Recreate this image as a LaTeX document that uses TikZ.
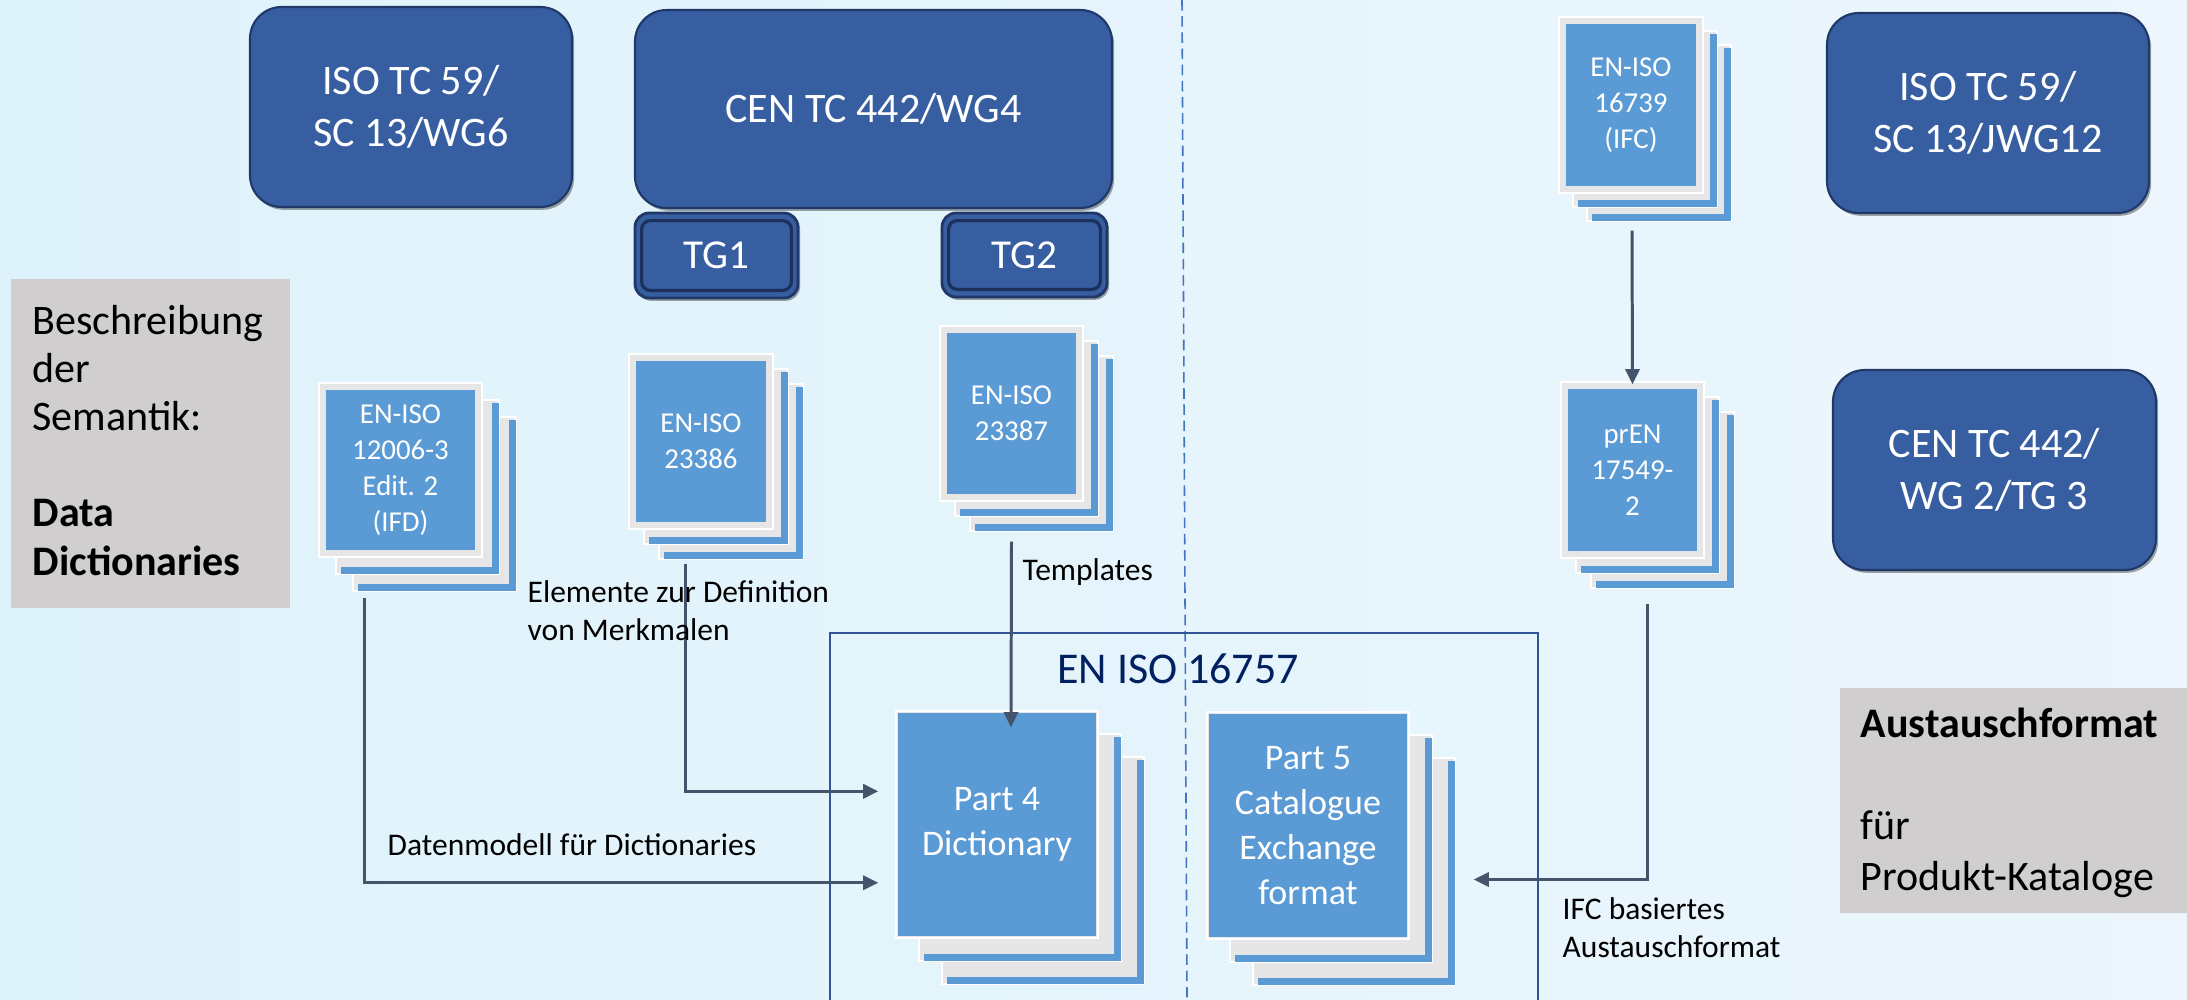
\documentclass[tikz,border=0pt]{standalone}
\usepackage{fontspec}
\setmainfont{Carlito}
\usetikzlibrary{arrows.meta,fit,calc,shadows}
\definecolor{bgL}{RGB}{222,242,251}
\definecolor{bgR}{RGB}{236,246,252}
\definecolor{boxblue}{RGB}{54,94,161}
\definecolor{boxedge}{RGB}{32,56,104}
\definecolor{tgline}{RGB}{28,48,92}
\definecolor{docblue}{RGB}{91,155,213}
\definecolor{pagegrey}{RGB}{230,230,230}
\definecolor{greybox}{RGB}{208,206,206}
\definecolor{connc}{RGB}{68,84,106}
\definecolor{framec}{RGB}{47,85,151}
\definecolor{navy}{RGB}{0,32,96}
\definecolor{dashc}{RGB}{68,114,196}
\tikzset{
  bigbox/.style={rounded corners=9pt, fill=boxblue, draw=boxedge, line width=0.6pt,
    inner sep=0pt,
    drop shadow={shadow xshift=0.6pt, shadow yshift=-0.8pt, fill=black, opacity=0.35}},
  boxtext/.style={inner sep=0pt, text=white, align=center,
    font=\fontsize{11.95pt}{14.8pt}\selectfont},
  tgbox/.style={rounded corners=4pt, fill=boxblue, draw=boxedge, line width=0.8pt,
    inner sep=0pt,
    drop shadow={shadow xshift=0.6pt, shadow yshift=-0.8pt, fill=black, opacity=0.35}},
  tgtext/.style={inner sep=0pt, text=white, font=\fontsize{11.7pt}{14pt}\selectfont},
  tginner/.style={draw=tgline, line width=0.9pt, rounded corners=2.5pt},
  docfront/.style={fill=docblue, inner sep=0pt},
  doctext/.style={inner sep=0pt, text=white, align=center},
  stackfont/.style={font=\fontsize{8.2pt}{10.24pt}\selectfont},
  partfont/.style={font=\fontsize{10.24pt}{12.8pt}\selectfont},
  greyrect/.style={fill=greybox, inner sep=0pt},
  greytext/.style={anchor=base west, align=left, inner sep=0pt, text=black},
  conn/.style={draw=connc, line width=0.85pt, -{Triangle[length=4.3pt,width=4pt]}},
  connlabel/.style={anchor=base west, align=left, inner sep=0pt, text=black,
    font=\fontsize{8.96pt}{10.8pt}\selectfont},
  framebox/.style={draw=framec, line width=0.6pt, inner sep=0pt},
}
\newcommand{\docstack}[9]{%
  % #1 name, #2 x0, #3 y0, #4 x1, #5 y1, #6 border, #7 offset, #8 style, #9 text
  \foreach \kk in {2,1}{%
    \pgfmathsetmacro{\stackoff}{#7*\kk}
    \draw[white, line width=0.5pt, fill=pagegrey] (#2+\stackoff,#3+\stackoff) rectangle (#4+\stackoff,#5+\stackoff);
    \fill[docblue] (#4+\stackoff-7,#3+\stackoff+3) rectangle (#4+\stackoff,#5+\stackoff);
    \fill[docblue] (#2+\stackoff+5,#5+\stackoff-7) rectangle (#4+\stackoff,#5+\stackoff);
  }
  \draw[white, line width=0.5pt, fill=pagegrey] (#2,#3) rectangle (#4,#5);
  \node[docfront, fit={(#2+#6,#3+#6) (#4-#6,#5-#6)}] (#1) {};
  \node[doctext, #8] (#1t) at (#1.center) {#9};
}
\begin{document}
\begin{tikzpicture}[x=0.01cm, y=-0.01cm]
\useasboundingbox (0,0) rectangle (2187,999);
\clip (0,0) rectangle (2187,999);
\shade[left color=bgL, right color=bgR] (0,0) rectangle (2187,999);

% dashed separator
\draw[dashc, line width=0.45pt, dash pattern=on 3pt off 1.6pt] (1182,0) -- (1187,999);

% EN ISO 16757 frame
\node[framebox, fit={(830,633) (1538,1040)}] (frame) {};
\node[anchor=base, inner sep=0pt, text=navy, font=\fontsize{12.5pt}{15pt}\selectfont] (frametitle) at (1178,683) {EN ISO 16757};

% committee boxes
\node[bigbox, fit={(250,7) (572,207)}] (iso1) {};
\node[boxtext] (iso1t) at (iso1.center) {ISO TC 59/\\SC 13/WG6};
\node[bigbox, fit={(635,10) (1112,208)}] (cen4) {};
\node[boxtext] (cen4t) at (cen4.center) {CEN TC 442/WG4};
\node[tgbox, fit={(635,213) (798,298)}] (tg1) {};
\draw[tginner] ($(tg1.south west)+(8,-9)$) rectangle ($(tg1.north east)+(-8,9)$);
\node[tgtext] (tg1t) at (tg1.center) {TG1};
\node[tgbox, fit={(942,213) (1107,297)}] (tg2) {};
\draw[tginner] ($(tg2.south west)+(8,-9)$) rectangle ($(tg2.north east)+(-8,9)$);
\node[tgtext] (tg2t) at (tg2.center) {TG2};
\node[bigbox, fit={(1827,13) (2149,213)}] (iso12) {};
\node[boxtext] (iso12t) at (iso12.center) {ISO TC 59/\\SC 13/JWG12};
\node[bigbox, fit={(1833,370) (2156,570)}] (cen2) {};
\node[boxtext] (cen2t) at (cen2.center) {CEN TC 442/\\WG 2/TG 3};

% grey info boxes
\node[greyrect, fit={(11,279) (290,608)}] (greyL) {};
\node[greytext, font=\fontsize{11.95pt}{13.66pt}\selectfont] (greyLt) at (32,575)
  {Beschreibung\\der\\Semantik:\\[13.66pt]\textbf{Data}\\\textbf{Dictionaries}};
\node[greyrect, fit={(1840,688) (2190,913)}] (greyR) {};
\node[greytext, font=\fontsize{11.95pt}{14.5pt}\selectfont] (greyRt) at (1860,890)
  {\textbf{Austauschformat}\\[14.5pt]für\\Produkt-Kataloge};

% document stacks
\docstack{A}{319}{383}{482}{557}{7}{17}{stackfont}{EN-ISO\\12006-3\\Edit. 2\\(IFD)}
\docstack{B}{629}{354}{773}{529}{7}{15}{stackfont}{EN-ISO\\23386}
\docstack{C}{940}{326}{1083}{501}{7}{15}{stackfont}{EN-ISO\\23387}
\docstack{D}{1559}{17}{1703}{193}{7}{14}{stackfont}{EN-ISO\\16739\\(IFC)}
\docstack{E}{1561}{382}{1704}{558}{7}{15}{stackfont}{prEN\\17549-\\2}
\docstack{P4}{896}{711}{1098}{938}{2}{23}{partfont}{Part 4\\Dictionary}
\docstack{P5}{1207}{712}{1409}{939}{2}{23}{partfont}{Part 5\\Catalogue\\Exchange\\format}

% connectors
\draw[conn] ($(A.south)+(-36,47)$) |- ($(P4.south west)+(-19,-54)$);
\draw[conn] ($(B.south)+(-16,41)$) |- ($(P4.north west)+(-19,79)$);
\draw[conn] ($(C.south)+(0,47)$) -- ($(P4.north)+(14,15)$);
\draw[conn] ($(D.south)+(1,44)$) -- ($(E.north)+(0,-4)$);
\draw[conn] ($(E.south)+(15,52)$) |- ($(P5.east)+(66,54)$);

% connector labels
\node[connlabel] (labDM) at (387,855) {Datenmodell für Dictionaries};
\node[connlabel] (labEL) at (527,640) {Elemente zur Definition\\von Merkmalen};
\node[connlabel] (labTP) at (1022,580) {Templates};
\node[connlabel] (labIFC) at (1562,957) {IFC basiertes\\Austauschformat};
\end{tikzpicture}
\end{document}
